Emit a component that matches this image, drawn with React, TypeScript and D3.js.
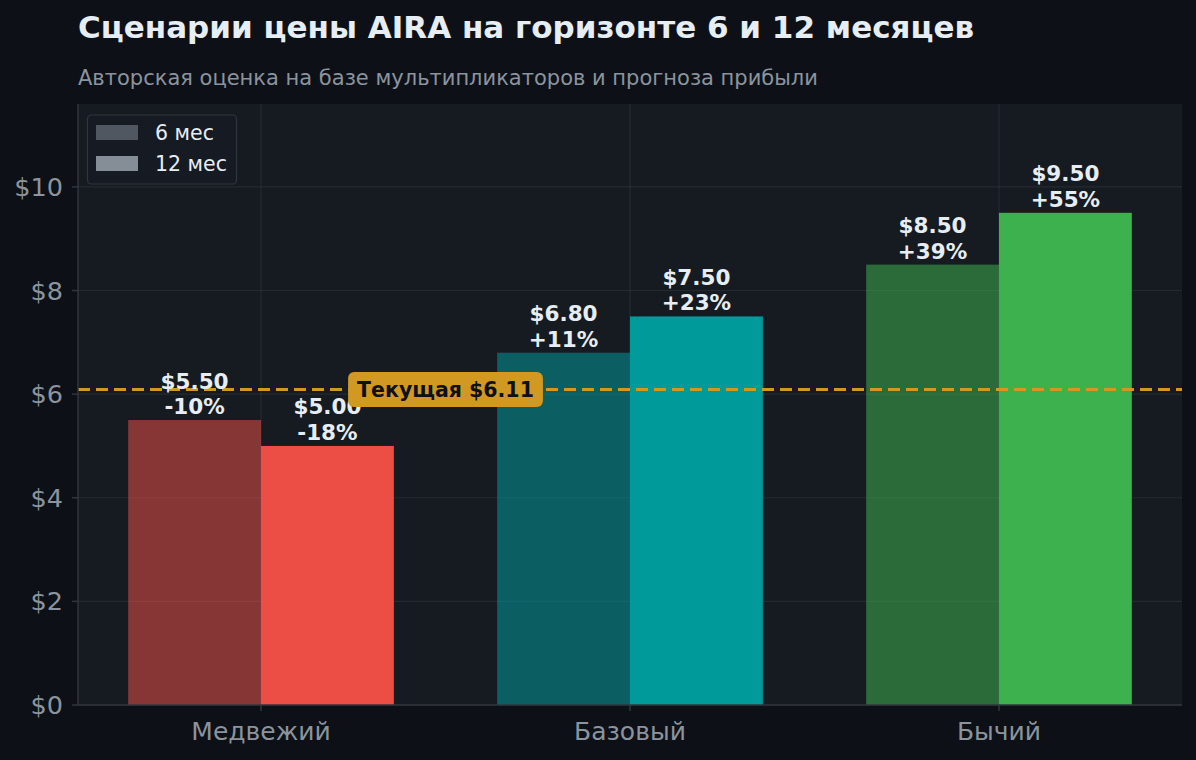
import React, { useEffect, useRef, useState } from "react";
import * as d3 from "d3";

const TITLE = "Сценарии цены AIRA на горизонте 6 и 12 месяцев";
const SUBTITLE = "Авторская оценка на базе мультипликаторов и прогноза прибыли";
const categories = ["Медвежий", "Базовый", "Бычий"];
const series6 = [5.5, 6.8, 8.5];
const series12 = [5.0, 7.5, 9.5];
const seriesNames = ["6 мес", "12 мес"];
const baseColors = ["#F85149", "#00A1A1", "#3FB950"];
const currentPrice = 6.11;
const currentLabel = "Текущая $6.11";
const yTicks = [0, 2, 4, 6, 8, 10];

const W = 1196;
const H = 760;
const BG = "#0D1117";
const AX_BG = "#161B22";
const GRID = "#30363D";
const MUTED = "#8B949E";
const TEXT = "#E6EDF3";
const YELLOW = "#D29922";
const FONT = "'DejaVu Sans', sans-serif";

const left = 78, right = 1182, top = 104, bottom = 705;
const barW = 0.36;

export default function App() {
  const x = d3.scaleLinear().domain([-0.496, 2.496]).range([left, right]);
  const y = d3.scaleLinear().domain([0, 11.6]).range([bottom, top]);
  const labelRef = useRef<SVGTextElement>(null);
  const [lw, setLw] = useState(178);

  useEffect(() => {
    document.body.style.margin = "0";
    if (labelRef.current) setLw(labelRef.current.getBBox().width);
  }, []);

  const pct = (v: number) => {
    const p = Math.round((v / currentPrice - 1) * 100);
    return (p > 0 ? "+" : "") + p + "%";
  };

  const bars: any[] = [];
  categories.forEach((c, i) => {
    bars.push({ v: series6[i], x0: x(i - barW), x1: x(i), fill: baseColors[i], op: 0.5 });
    bars.push({ v: series12[i], x0: x(i), x1: x(i + barW), fill: baseColors[i], op: 0.95 });
  });

  const cx = x(0.5);
  const cy = Math.round(y(currentPrice)) + 1.5;

  return (
    <svg width={W} height={H} style={{ position: "absolute", left: 0, top: 0, display: "block" }} fontFamily={FONT}>
      <rect x={0} y={0} width={W} height={H} fill={BG} />
      <text x={78} y={38} fill={TEXT} fontSize={31} fontWeight="bold">{TITLE}</text>
      <text x={78} y={85} fill={MUTED} fontSize={21}>{SUBTITLE}</text>

      <rect x={left} y={top} width={right - left} height={bottom - top} fill={AX_BG} />
      {/* grid */}
      {yTicks.map((t) => (
        <line key={"gy" + t} x1={left} x2={right} y1={y(t)} y2={y(t)} stroke={GRID} strokeOpacity={0.6} strokeWidth={1.2} />
      ))}
      {categories.map((c, i) => (
        <line key={"gx" + i} x1={x(i)} x2={x(i)} y1={top} y2={bottom} stroke={GRID} strokeOpacity={0.6} strokeWidth={1.2} />
      ))}

      {/* bars */}
      {bars.map((b, k) => (
        <rect key={"b" + k} x={b.x0} y={y(b.v)} width={b.x1 - b.x0} height={y(0) - y(b.v)} fill={b.fill} fillOpacity={b.op} />
      ))}

      {/* current line */}
      <line x1={left} x2={right} y1={cy} y2={cy} stroke={YELLOW} strokeWidth={3} strokeDasharray="12,6" />

      {/* value labels */}
      {bars.map((b, k) => {
        const mx = (b.x0 + b.x1) / 2;
        const by = y(b.v);
        return (
          <g key={"l" + k} fill={TEXT} fontSize={21.5} fontWeight="bold" textAnchor="middle">
            <text x={mx} y={by - 31.5}>{"$" + b.v.toFixed(2)}</text>
            <text x={mx} y={by - 6}>{pct(b.v)}</text>
          </g>
        );
      })}

      {/* current label */}
      <rect x={cx - lw / 2 - 9} y={cy - 17.5} width={lw + 18} height={35} rx={6} fill={YELLOW} />
      <text ref={labelRef} x={cx} y={cy + 7.5} textAnchor="middle" fontSize={20.5} fontWeight="bold" fill={BG}>{currentLabel}</text>

      {/* spines */}
      <line x1={left} x2={left} y1={top} y2={bottom} stroke={GRID} strokeWidth={1.5} />
      <line x1={left} x2={right} y1={bottom} y2={bottom} stroke={GRID} strokeWidth={1.5} />

      {/* y ticks */}
      {yTicks.map((t) => (
        <g key={"yt" + t}>
          <line x1={left - 6} x2={left} y1={y(t)} y2={y(t)} stroke={GRID} strokeWidth={1.5} />
          <text x={63} y={y(t) + 9} textAnchor="end" fontSize={25.5} fill={MUTED}>{"$" + t}</text>
        </g>
      ))}
      {/* x ticks */}
      {categories.map((c, i) => (
        <g key={"xt" + i}>
          <line x1={x(i)} x2={x(i)} y1={bottom} y2={bottom + 6} stroke={GRID} strokeWidth={1.5} />
          <text x={x(i)} y={740} textAnchor="middle" fontSize={25} fill={MUTED}>{c}</text>
        </g>
      ))}

      {/* legend */}
      <rect x={87.5} y={115} width={149} height={69} rx={4} fill={AX_BG} fillOpacity={0.9} stroke={GRID} strokeWidth={1.2} />
      {seriesNames.map((s, k) => (
        <g key={"lg" + k}>
          <rect x={96} y={125 + k * 31} width={42} height={15} fill={MUTED} fillOpacity={k === 0 ? 0.5 : 0.95} />
          <text x={155} y={140 + k * 31} fontSize={20.5} fill={TEXT}>{s}</text>
        </g>
      ))}
    </svg>
  );
}
